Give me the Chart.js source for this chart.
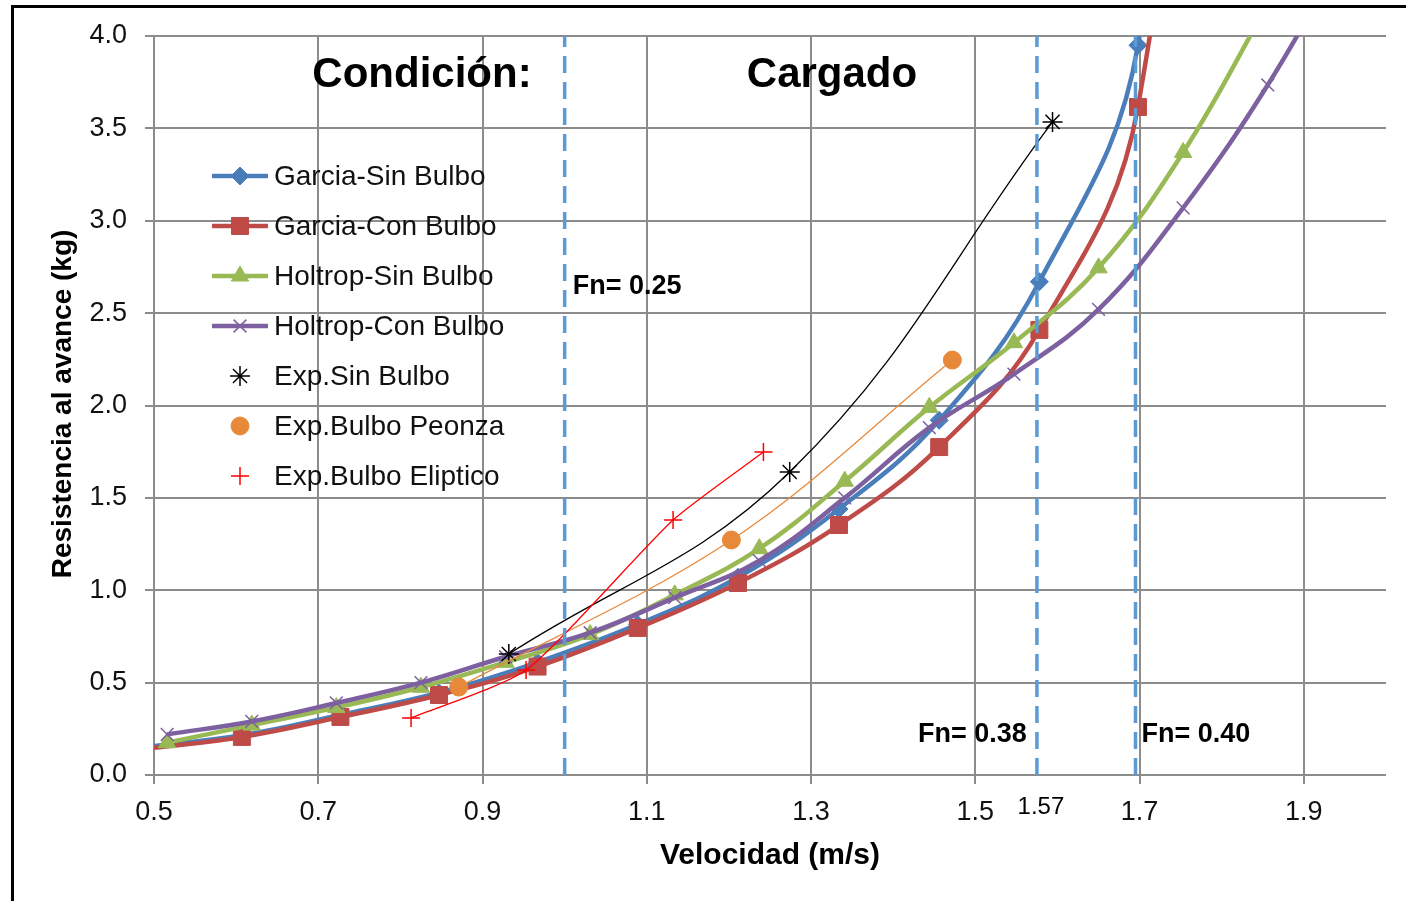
<!DOCTYPE html>
<html lang="es">
<head>
<meta charset="UTF-8">
<title>Resistencia al avance - Condición: Cargado</title>
<script src="https://cdn.jsdelivr.net/npm/chart.js"></script>
<style>
    html, body { margin: 0; padding: 0; background: #fff; }
</style>
</head>
<body>
<canvas id="myChart" width="1406" height="901"></canvas>
<script>
    // velocidades (m/s) y resistencias (kg)
    const vGarcia = [0.487, 0.607, 0.727, 0.847, 0.967, 1.089, 1.211, 1.334, 1.456, 1.578, 1.698, 1.818];
    const rGarciaSin = [0.15, 0.215, 0.325, 0.445, 0.61, 0.815, 1.07, 1.44, 1.92, 2.67, 3.95, 9.0];
    const rGarciaCon = [0.14, 0.206, 0.314, 0.433, 0.587, 0.796, 1.039, 1.353, 1.775, 2.409, 3.616, 8.5];

    const vHoltrop = [0.516, 0.619, 0.722, 0.825, 0.928, 1.031, 1.134, 1.237, 1.341, 1.444, 1.547, 1.650, 1.753, 1.856, 1.959];
    const rHoltropSin = [0.175, 0.27, 0.365, 0.475, 0.61, 0.76, 0.975, 1.225, 1.59, 1.99, 2.34, 2.745, 3.37, 4.17, null];
    const rHoltropCon = [0.22, 0.29, 0.39, 0.50, 0.64, 0.77, 0.96, 1.16, 1.50, 1.88, 2.17, 2.52, 3.07, 3.735, 4.53];

    const vExpSin = [0.932, 1.274, 1.594];
    const rExpSin = [0.655, 1.64, 3.535];
    const vExpPeonza = [0.871, 1.203, 1.472];
    const rExpPeonza = [0.476, 1.272, 2.246];
    const vExpEliptico = [0.813, 0.953, 1.132, 1.242];
    const rExpEliptico = [0.309, 0.568, 1.38, 1.748];

    // lineas de Froude
    const fnSpeeds = [1.0, 1.575, 1.695];
    const fnLabels = ['Fn= 0.25', 'Fn= 0.38', 'Fn= 0.40'];

    const xTicks = [0.5, 0.7, 0.9, 1.1, 1.3, 1.5, 1.7, 1.9];
    const yTicks = [0.0, 0.5, 1.0, 1.5, 2.0, 2.5, 3.0, 3.5, 4.0];

    const FONT = '"Liberation Sans", Arial, sans-serif';

    function toPoints(xs, ys) {
        const pts = [];
        xs.forEach((x, i) => { if (ys[i] !== null) pts.push({ x: x, y: ys[i] }); });
        return pts;
    }

    function serie(label, xs, ys, color, style, radius, width, order, fill, tension) {
        return {
            label: label,
            data: toPoints(xs, ys),
            borderColor: color,
            backgroundColor: color,
            borderWidth: width,
            pointStyle: style,
            pointRadius: radius,
            pointHoverRadius: radius,
            pointBorderColor: color,
            pointBackgroundColor: fill ? color : 'transparent',
            pointBorderWidth: fill ? 1 : 1.5,
            tension: tension,
            order: order
        };
    }

    const datasets = [
        serie('Garcia-Sin Bulbo', vGarcia, rGarciaSin, '#4A7EBB', 'rectRot', 9, 4.5, 10, true, 0.4),
        serie('Garcia-Con Bulbo', vGarcia, rGarciaCon, '#BE4B48', 'rect', 12, 4.5, 9, true, 0.4),
        serie('Holtrop-Sin Bulbo', vHoltrop, rHoltropSin, '#98B954', 'triangle', 10, 4.5, 8, true, 0.4),
        serie('Holtrop-Con Bulbo', vHoltrop, rHoltropCon, '#7D60A0', 'crossRot', 9, 4.5, 7, false, 0.4),
        serie('Exp.Sin Bulbo', vExpSin, rExpSin, '#000000', 'star', 10, 1.3, 6, false, 0.4),
        serie('Exp.Bulbo Peonza', vExpPeonza, rExpPeonza, '#E8893A', 'circle', 9, 1.3, 5, true, 0.35),
        serie('Exp.Bulbo Eliptico', vExpEliptico, rExpEliptico, '#FF0000', 'cross', 9, 1.3, 4, false, 0.2)
    ];

    // lineas verticales discontinuas (Froude)
    fnSpeeds.forEach((v, i) => {
        datasets.push({
            label: fnLabels[i],
            data: [{ x: v, y: 0 }, { x: v, y: 4 }],
            borderColor: '#5B9BD5',
            borderWidth: 3.5,
            borderDash: [17, 9],
            pointRadius: 0,
            tension: 0,
            order: 0,
            isFroude: true
        });
    });

    // leyenda dibujada dentro del area del grafico
    const legendPlugin = {
        id: 'legendaInterna',
        beforeDatasetsDraw(chart) {
            const ctx = chart.ctx;
            ctx.save();
            ctx.font = '28px ' + FONT;
            ctx.textBaseline = 'middle';
            ctx.textAlign = 'left';
            chart.data.datasets.filter(d => !d.isFroude).forEach((d, i) => {
                const y = 176 + i * 50;
                if (d.borderWidth > 2) {
                    ctx.strokeStyle = d.borderColor;
                    ctx.lineWidth = d.borderWidth;
                    ctx.setLineDash([]);
                    ctx.beginPath();
                    ctx.moveTo(212, y);
                    ctx.lineTo(268, y);
                    ctx.stroke();
                }
                ctx.strokeStyle = d.pointBorderColor;
                ctx.fillStyle = d.pointBackgroundColor;
                ctx.lineWidth = d.pointBorderWidth;
                Chart.helpers.drawPoint(ctx, {
                    pointStyle: d.pointStyle,
                    radius: d.pointRadius,
                    borderWidth: d.pointBorderWidth,
                    rotation: 0
                }, 240, y);
                ctx.fillStyle = '#111';
                ctx.fillText(d.label, 274, y + 1);
            });
            ctx.restore();
        }
    };

    // textos del grafico: titulos, Froude, marco
    const textPlugin = {
        id: 'textos',
        beforeDatasetsDraw(chart) {
            const ctx = chart.ctx;
            const xs = chart.scales.x;
            ctx.save();
            ctx.fillStyle = '#000';
            ctx.textBaseline = 'middle';

            ctx.font = 'bold 42px ' + FONT;
            ctx.textAlign = 'center';
            ctx.fillText('Condición:', 422, 75);
            ctx.fillText('Cargado', 832, 75);

            ctx.font = 'bold 27px ' + FONT;
            ctx.textAlign = 'left';
            ctx.fillText(fnLabels[0], xs.getPixelForValue(fnSpeeds[0]) + 8, 287);
            ctx.fillText(fnLabels[1], 918, 735);
            ctx.fillText(fnLabels[2], xs.getPixelForValue(fnSpeeds[2]) + 6, 735);

            ctx.font = '24px ' + FONT;
            ctx.textAlign = 'center';
            ctx.fillText('1.57', xs.getPixelForValue(fnSpeeds[1]) + 4, 807);

            ctx.font = 'bold 30px ' + FONT;
            ctx.fillText('Velocidad (m/s)', 770, 856);

            ctx.translate(63, 404);
            ctx.rotate(-Math.PI / 2);
            ctx.font = 'bold 28px ' + FONT;
            ctx.fillText('Resistencia al avance (kg)', 0, 0);
            ctx.restore();
        },
        afterDraw(chart) {
            const ctx = chart.ctx;
            ctx.save();
            ctx.strokeStyle = '#000';
            ctx.lineWidth = 3;
            ctx.beginPath();
            ctx.moveTo(12.5, 901);
            ctx.lineTo(12.5, 6.5);
            ctx.lineTo(1406, 6.5);
            ctx.stroke();
            ctx.restore();
        }
    };

    const ctx = document.getElementById('myChart').getContext('2d');
    const myChart = new Chart(ctx, {
        type: 'line',
        data: { datasets: datasets },
        options: {
            responsive: false,
            animation: false,
            devicePixelRatio: 1,
            layout: { padding: { top: 36, right: 20, left: 0, bottom: 0 } },
            plugins: {
                legend: { display: false },
                tooltip: { enabled: false }
            },
            scales: {
                x: {
                    type: 'linear',
                    min: 0.5,
                    max: 2.0,
                    afterBuildTicks: scale => { scale.ticks = xTicks.map(v => ({ value: v })); },
                    afterFit: scale => { scale.height = 126; },
                    grid: { color: '#8c8c8c', lineWidth: 2, tickLength: 9 },
                    border: { display: false },
                    ticks: {
                        autoSkip: false,
                        maxRotation: 0,
                        padding: 12,
                        color: '#111',
                        font: { family: FONT, size: 27 },
                        callback: v => v.toFixed(1)
                    }
                },
                y: {
                    type: 'linear',
                    min: 0,
                    max: 4,
                    afterBuildTicks: scale => { scale.ticks = yTicks.map(v => ({ value: v })); },
                    afterFit: scale => { scale.width = 154; },
                    grid: { color: '#8c8c8c', lineWidth: 2, tickLength: 9 },
                    border: { display: false },
                    ticks: {
                        padding: 18,
                        color: '#111',
                        font: { family: FONT, size: 27 },
                        callback: v => v.toFixed(1)
                    }
                }
            }
        },
        plugins: [legendPlugin, textPlugin]
    });
</script>
</body>
</html>
